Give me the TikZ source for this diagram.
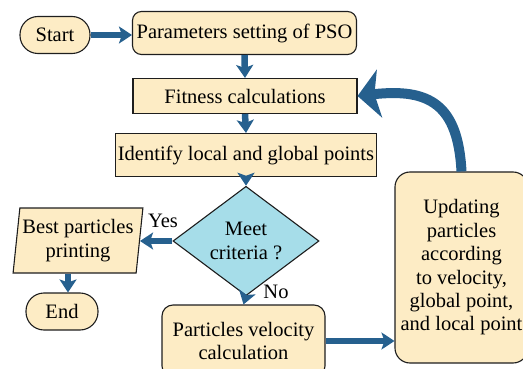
\documentclass[tikz,border=0pt]{standalone}
\usepackage{fontspec}
\setmainfont{Liberation Serif}
\usetikzlibrary{arrows.meta,shapes.geometric}
\definecolor{boxfill}{RGB}{253,236,197}
\definecolor{diafill}{RGB}{166,221,233}
\definecolor{arrblue}{RGB}{38,96,142}
\definecolor{edge}{RGB}{30,30,30}
\tikzset{
  base/.style={draw=edge, line width=1.1pt, fill=boxfill, align=center, inner sep=2pt,
    font=\rmfamily\fontsize{20.5}{23.4}\selectfont},
  pill/.style={base, rounded corners=18pt, minimum height=37pt},
  rbox/.style={base, rounded corners=9pt},
  sbox/.style={base},
  decision/.style={base, diamond, fill=diafill, minimum width=146pt, minimum height=92pt, inner sep=0pt},
  para/.style={base, trapezium, trapezium left angle=82, trapezium right angle=98,
    trapezium stretches=true, minimum width=130pt, minimum height=65pt, inner xsep=0pt},
  flow/.style={draw=arrblue, line width=6.5pt, -{Stealth[width=17pt,length=13pt,inset=3pt]}},
  bigflow/.style={draw=arrblue, line width=10pt, -{Stealth[width=48pt,length=22pt,inset=5pt]}},
  lbl/.style={font=\rmfamily\fontsize{20.5}{23.4}\selectfont, inner sep=0pt}
}
\begin{document}
\begin{tikzpicture}[x=1pt,y=-1pt]
\useasboundingbox (0,0) rectangle (523,369);
\clip (0,0) rectangle (523,369);
\node[pill, minimum width=70pt] (start) at (55,35) {Start};
\node[rbox, minimum width=224pt, minimum height=43pt] (params) at (244.5,33) {Parameters setting of PSO};
\node[sbox, minimum width=224pt, minimum height=35pt] (fit) at (245,96) {Fitness calculations};
\node[sbox, minimum width=260pt, minimum height=43pt] (ident) at (246,155) {Identify local and global points};
\node[decision] (dia) at (246,241) {Meet\\criteria ?};
\node[para] (best) at (78,240.5) {Best particles\\printing};
\node[pill, minimum width=72pt] (endn) at (62,311.5) {End};
\node[rbox, rounded corners=11pt, minimum width=163pt, minimum height=72pt] (vel) at (243.5,341) {Particles velocity\\calculation};
\node[rbox, rounded corners=15pt, minimum width=133pt, minimum height=191pt] (upd) at (461.5,267.5)
  {Updating\\particles\\according\\to velocity,\\global point,\\and local point};
\node[lbl] (yes) at (163,221) {Yes};
\node[lbl] (no) at (276,292) {No};

\draw[flow] (start.east) -- (start.east -| params.west);
\draw[flow] (params.south) -- (fit.north);
\draw[flow] (fit.south) -- (ident.north);
\draw[flow] (ident.south) -- (dia.north);
\draw[flow] (dia.west) -- (best.east |- dia.west);
\draw[flow] ([xshift=-10pt]best.south) -- ([xshift=-10pt]best.south |- endn.north);
\draw[flow] (dia.south) -- (vel.north);
\draw[flow] (vel.east) -- (vel.east -| upd.west);
\draw[bigflow] (upd.north) .. controls (458,105) and (430,88) .. (fit.east);
\end{tikzpicture}
\end{document}
